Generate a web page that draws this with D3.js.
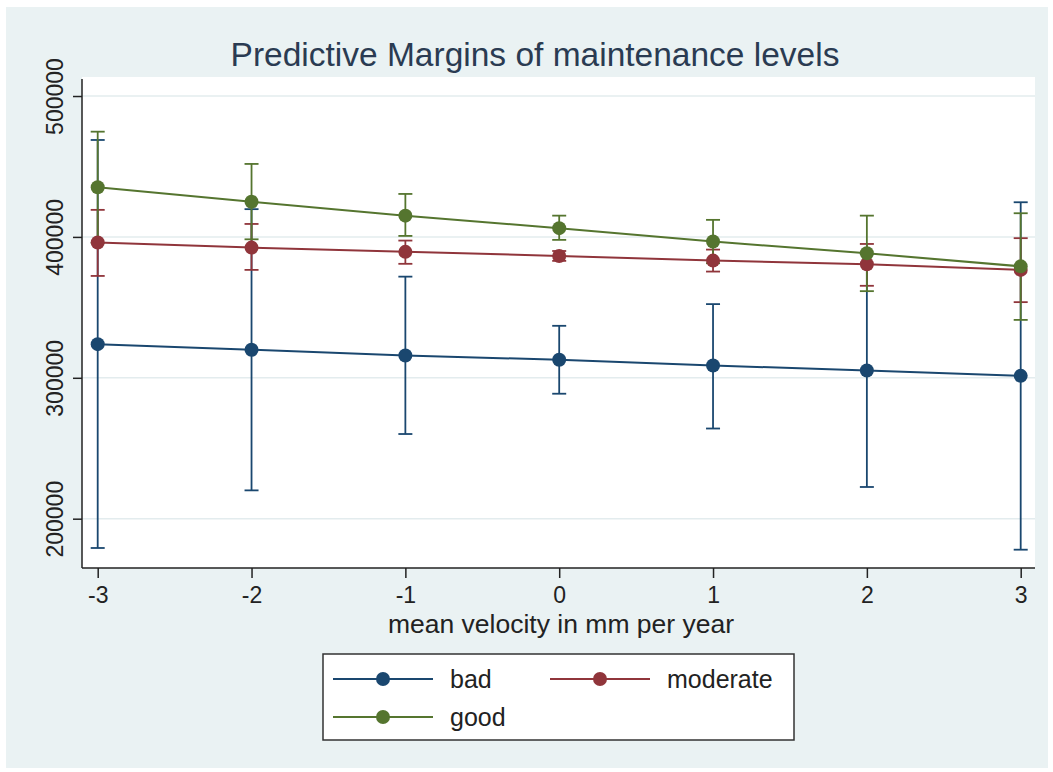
<!DOCTYPE html>
<html>
<head>
<meta charset="utf-8">
<script src="https://cdn.jsdelivr.net/npm/d3@7"></script>
<style>
  html, body { margin: 0; padding: 0; background: #ffffff; }
  svg { display: block; }
  text { font-family: "Liberation Sans", Arial, sans-serif; }
</style>
</head>
<body>
<div id="chart"></div>
<script>
// Predicted margins by maintenance level, with 95% confidence intervals
const velocity = [-3, -2, -1, 0, 1, 2, 3];
const seriesNames = ["bad", "moderate", "good"];

const badMargin = [323900, 319900, 315800, 312800, 308700, 305200, 301400];
const badLower  = [179200, 220100, 260100, 288700, 264000, 222500, 178000];
const badUpper  = [468800, 419700, 371800, 336900, 352300, 387900, 424600];

const moderateMargin = [396000, 392400, 389400, 386500, 383200, 380600, 376600];
const moderateLower  = [372300, 376600, 380900, 383000, 375400, 365300, 353700];
const moderateUpper  = [419200, 409200, 397400, 390000, 391000, 395000, 399100];

const goodMargin = [435300, 425000, 415100, 406200, 396700, 388400, 379100];
const goodLower  = [395800, 398300, 400700, 397900, 381300, 361500, 341100];
const goodUpper  = [474700, 451800, 430500, 415100, 412100, 415100, 416800];

const yTicks = [200000, 300000, 400000, 500000];
const xTicks = [-3, -2, -1, 0, 1, 2, 3];

const W = 1053, H = 772;
const colors = { bad: "#1a476f", moderate: "#90353b", good: "#55752f" };

const series = [
  { name: "bad", margin: badMargin, lower: badLower, upper: badUpper },
  { name: "moderate", margin: moderateMargin, lower: moderateLower, upper: moderateUpper },
  { name: "good", margin: goodMargin, lower: goodLower, upper: goodUpper }
];

const plot = { left: 82, right: 1035, top: 77, bottom: 568 };

const x = d3.scaleLinear().domain([-3, 3]).range([97.7, 1020.7]);
const y = d3.scaleLinear().domain([165000, 513500]).range([plot.bottom, plot.top]);

const svg = d3.select("#chart").append("svg")
  .attr("width", W).attr("height", H);

// graph region background
svg.append("rect").attr("x", 0).attr("y", 0).attr("width", W).attr("height", H)
  .attr("fill", "#ffffff");
svg.append("rect").attr("x", 6).attr("y", 7).attr("width", W - 11).attr("height", H - 11)
  .attr("fill", "#eaf2f3");

// plot region
svg.append("rect")
  .attr("x", plot.left).attr("y", plot.top)
  .attr("width", plot.right - plot.left).attr("height", plot.bottom - plot.top)
  .attr("fill", "#ffffff");

// horizontal grid lines
svg.append("g").selectAll("line").data(yTicks).join("line")
  .attr("x1", plot.left).attr("x2", plot.right)
  .attr("y1", d => y(d)).attr("y2", d => y(d))
  .attr("stroke", "#e3ecee").attr("stroke-width", 1.5);

// title
svg.append("text")
  .attr("x", 535).attr("y", 66)
  .attr("text-anchor", "middle")
  .attr("font-size", 33.5)
  .attr("fill", "#2a3b52")
  .text("Predictive Margins of maintenance levels");

// y axis
const yAxis = d3.axisLeft(y).tickValues(yTicks).tickSize(9).tickFormat(d3.format("d"));
const gy = svg.append("g").attr("transform", `translate(${plot.left},0)`).call(yAxis);
gy.select(".domain").attr("d", `M0,${plot.top + 2}V${plot.bottom}`).attr("stroke", "#222").attr("stroke-width", 1.5);
gy.selectAll(".tick line").attr("stroke", "#222").attr("stroke-width", 1.5);
gy.selectAll(".tick text")
  .attr("font-size", 23).attr("fill", "#222")
  .attr("text-anchor", "middle")
  .attr("transform", "rotate(-90)")
  .attr("x", 0).attr("y", -19).attr("dy", 0);

// x axis
const xAxis = d3.axisBottom(x).tickValues(xTicks).tickSize(10).tickFormat(d3.format("d"));
const gx = svg.append("g").attr("transform", `translate(0,${plot.bottom})`).call(xAxis);
gx.select(".domain").attr("d", `M${plot.left},0H${plot.right}`).attr("stroke", "#222").attr("stroke-width", 1.5);
gx.selectAll(".tick line").attr("stroke", "#222").attr("stroke-width", 1.5);
gx.selectAll(".tick text")
  .attr("font-size", 23).attr("fill", "#222")
  .attr("y", 35).attr("dy", 0)
  .text(d => d < 0 ? "-" + Math.abs(d) : String(d));

// x axis title
svg.append("text")
  .attr("x", 561).attr("y", 633)
  .attr("text-anchor", "middle")
  .attr("font-size", 26.5).attr("fill", "#222")
  .text("mean velocity in mm per year");

// confidence interval caps
const capHalf = 7;
series.forEach(s => {
  const g = svg.append("g").attr("stroke", colors[s.name]).attr("stroke-width", 1.8).attr("fill", "none");
  const idx = d3.range(velocity.length);
  g.selectAll("line.ci").data(idx).join("line").attr("class", "ci")
    .attr("x1", i => x(velocity[i])).attr("x2", i => x(velocity[i]))
    .attr("y1", i => y(s.lower[i])).attr("y2", i => y(s.upper[i]));
  g.selectAll("line.capL").data(idx).join("line").attr("class", "capL")
    .attr("x1", i => x(velocity[i]) - capHalf).attr("x2", i => x(velocity[i]) + capHalf)
    .attr("y1", i => y(s.lower[i])).attr("y2", i => y(s.lower[i]));
  g.selectAll("line.capU").data(idx).join("line").attr("class", "capU")
    .attr("x1", i => x(velocity[i]) - capHalf).attr("x2", i => x(velocity[i]) + capHalf)
    .attr("y1", i => y(s.upper[i])).attr("y2", i => y(s.upper[i]));
});

// margin lines with markers
const line = d3.line().x((d, i) => x(velocity[i])).y(d => y(d));
series.forEach(s => {
  svg.append("path").datum(s.margin)
    .attr("d", line)
    .attr("fill", "none").attr("stroke", colors[s.name]).attr("stroke-width", 2);
  svg.append("g").selectAll("circle").data(s.margin).join("circle")
    .attr("cx", (d, i) => x(velocity[i])).attr("cy", d => y(d))
    .attr("r", 7).attr("fill", colors[s.name]);
});

// legend
const legend = svg.append("g");
legend.append("rect")
  .attr("x", 323).attr("y", 654).attr("width", 471).attr("height", 86)
  .attr("fill", "#ffffff").attr("stroke", "#333").attr("stroke-width", 1.5);
const legendItems = [
  { name: "bad", lx: 333, ty: 679 },
  { name: "moderate", lx: 550, ty: 679 },
  { name: "good", lx: 333, ty: 717 }
];
legendItems.forEach(it => {
  legend.append("line")
    .attr("x1", it.lx).attr("x2", it.lx + 100)
    .attr("y1", it.ty).attr("y2", it.ty)
    .attr("stroke", colors[it.name]).attr("stroke-width", 2);
  legend.append("circle")
    .attr("cx", it.lx + 50).attr("cy", it.ty).attr("r", 7)
    .attr("fill", colors[it.name]);
  legend.append("text")
    .attr("x", it.lx + 117).attr("y", it.ty + 9)
    .attr("font-size", 25).attr("fill", "#222")
    .text(it.name);
});
</script>
</body>
</html>
